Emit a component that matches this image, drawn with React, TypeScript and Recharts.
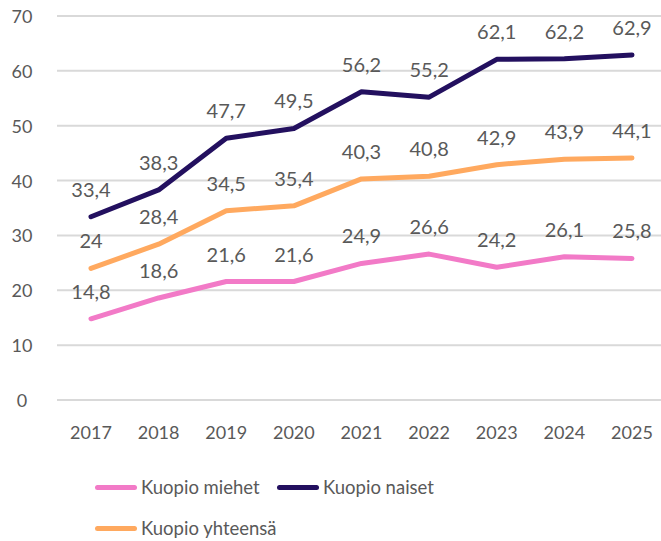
import { CartesianGrid, LabelList, Line, LineChart, XAxis, YAxis } from 'recharts';

const years = ['2017', '2018', '2019', '2020', '2021', '2022', '2023', '2024', '2025'];
const miehet = [14.8, 18.6, 21.6, 21.6, 24.9, 26.6, 24.2, 26.1, 25.8];
const naiset = [33.4, 38.3, 47.7, 49.5, 56.2, 55.2, 62.1, 62.2, 62.9];
const yhteensa = [24, 28.4, 34.5, 35.4, 40.3, 40.8, 42.9, 43.9, 44.1];
const yTicks = [0, 10, 20, 30, 40, 50, 60, 70];

const series = [
  { key: 'miehet', name: 'Kuopio miehet', color: '#f27ac7' },
  { key: 'naiset', name: 'Kuopio naiset', color: '#23105f' },
  { key: 'yhteensa', name: 'Kuopio yhteensä', color: '#ffa95f' },
];

const data = years.map((year, i) => ({
  year,
  miehet: miehet[i],
  naiset: naiset[i],
  yhteensa: yhteensa[i],
}));

const FONT = 'Lato, "Noto Sans", sans-serif';
const TEXT = '#595959';

const fmt = (v: any) => String(v).replace('.', ',');

function YTick(props: any) {
  return (
    <text x={22} y={props.y} textAnchor="middle" dominantBaseline="central" fill={TEXT} fontSize={18} fontFamily={FONT}>
      {props.payload.value}
    </text>
  );
}

function XTick(props: any) {
  return (
    <text x={props.x} y={props.y + 24} textAnchor="middle" dominantBaseline="central" fill={TEXT} fontSize={18} fontFamily={FONT}>
      {props.payload.value}
    </text>
  );
}

function LegendItem({ name, color, left, top }: { name: string; color: string; left: number; top: number }) {
  return (
    <div style={{ position: 'absolute', left, top, display: 'flex', alignItems: 'center', height: 24 }}>
      <div style={{ width: 42, height: 5, borderRadius: 3, background: color, marginRight: 4 }} />
      <span style={{ fontFamily: FONT, fontSize: 18.5, color: TEXT, whiteSpace: 'nowrap' }}>{name}</span>
    </div>
  );
}

export default function App() {
  return (
    <div style={{ position: 'absolute', left: 0, top: 0, width: 661, height: 541, overflow: 'hidden', background: '#fff' }}>
      <LineChart width={661} height={460} data={data} margin={{ top: 16, right: 0, bottom: 0, left: 0 }}>
        <CartesianGrid vertical={false} stroke="#d9d9d9" strokeWidth={2} />
        <XAxis
          dataKey="year"
          axisLine={false}
          tickLine={false}
          height={60}
          tick={<XTick />}
          interval={0}
          padding={{ left: 34, right: 29 }}
        />
        <YAxis domain={[0, 70]} ticks={yTicks} axisLine={false} tickLine={false} width={57} tick={<YTick />} />
        {series.map((s) => (
          <Line
            key={s.key}
            dataKey={s.key}
            name={s.name}
            stroke={s.color}
            strokeWidth={5}
            strokeLinecap="round"
            strokeLinejoin="round"
            dot={false}
            activeDot={false}
            isAnimationActive={false}
          >
            <LabelList dataKey={s.key} position="top" offset={20} formatter={fmt} fill={TEXT} fontSize={20} fontFamily={FONT} />
          </Line>
        ))}
      </LineChart>
      <LegendItem name={series[0].name} color={series[0].color} left={95} top={475} />
      <LegendItem name={series[1].name} color={series[1].color} left={277} top={475} />
      <LegendItem name={series[2].name} color={series[2].color} left={95} top={516} />
    </div>
  );
}
